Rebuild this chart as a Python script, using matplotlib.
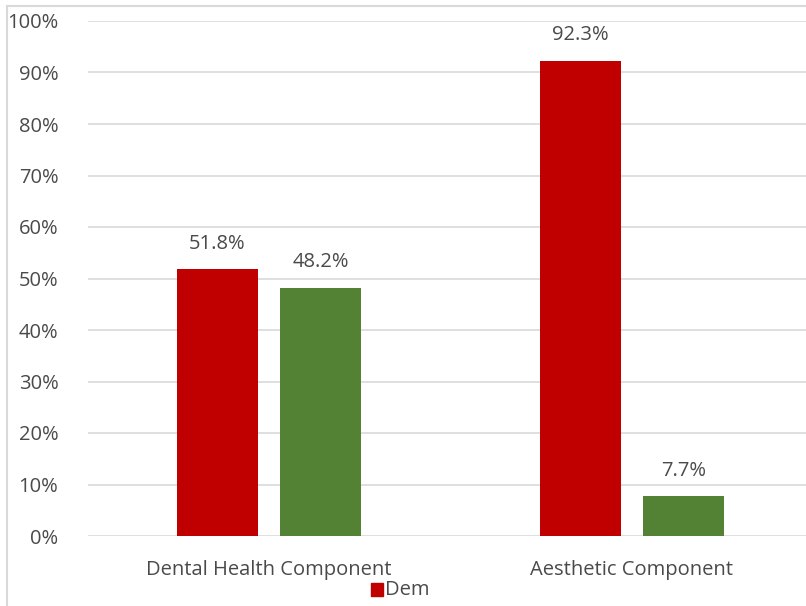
import matplotlib
matplotlib.use("Agg")
import matplotlib.pyplot as plt
import numpy as np
from matplotlib.lines import Line2D
from matplotlib.patches import Rectangle

categories = ["Dental Health Component", "Aesthetic Component"]
dem = [51.8, 92.3]
other = [48.2, 7.7]
yticks = [0, 10, 20, 30, 40, 50, 60, 70, 80, 90, 100]

plt.rcParams['font.family'] = ['Open Sans', 'DejaVu Sans']

W, H = 806, 606
fig = plt.figure(figsize=(W / 100, H / 100), dpi=100)

# axes: x from 87.5 to 813.5 px, y from 21 (100%) to 536 (0%)
left, right = 87.5, 813.5
top, bottom = 21, 536
ax = fig.add_axes([left / W, 1 - bottom / H, (right - left) / W, (bottom - top) / H])
ax.set_xlim(-0.5, 1.5)
ax.set_ylim(0, 100)

x = np.arange(len(categories))
bw = 0.223
off = 0.142
red = "#C00000"
green = "#548235"
txt = "#4a4a4a"
fs = 14.5
b1 = ax.bar(x - off, dem, bw, color=red, zorder=3, label="Dem")
b2 = ax.bar(x + off, other, bw, color=green, zorder=3)

for bars, vals in ((b1, dem), (b2, other)):
    for rect, v in zip(bars, vals):
        ax.text(rect.get_x() + rect.get_width() / 2, v + 3.0, f"{v:.1f}%",
                ha="center", va="bottom", fontsize=fs, color=txt)

ax.set_yticks(yticks)
ax.set_yticklabels([f"{t}%" for t in yticks], fontsize=fs, color=txt)
ax.set_xticks(x)
ax.set_xticklabels(categories, fontsize=fs, color=txt)
ax.tick_params(axis="both", length=0)
ax.tick_params(axis="y", pad=21)
ax.tick_params(axis="x", pad=17)
ax.yaxis.grid(True, color="#d9d9d9", linewidth=1.2, zorder=0)
ax.set_axisbelow(True)
for s in ax.spines.values():
    s.set_visible(False)

# outer chart border (cropped)
fig.add_artist(Line2D([7.5 / W, 7.5 / W], [0, 1 - 6 / H], transform=fig.transFigure,
                      color="#d9d9d9", linewidth=1.5))
fig.add_artist(Line2D([7.5 / W, 1], [1 - 6 / H, 1 - 6 / H], transform=fig.transFigure,
                      color="#d9d9d9", linewidth=1.5))

# legend (clipped at bottom)
clip = Rectangle((0, 1 - 596 / H), 1, 596 / H, transform=fig.transFigure,
                 facecolor="none", edgecolor="none")
fig.add_artist(clip)
fig.add_artist(Rectangle((371 / W, 1 - 596 / H), 12 / W, 13 / H, transform=fig.transFigure,
                         color=red))
lt = fig.text(385 / W, 1 - 590 / H, "Dem", fontsize=fs, color=txt,
              ha="left", va="center")
lt.set_clip_path(clip)

fig.savefig("out.png", dpi=100)
